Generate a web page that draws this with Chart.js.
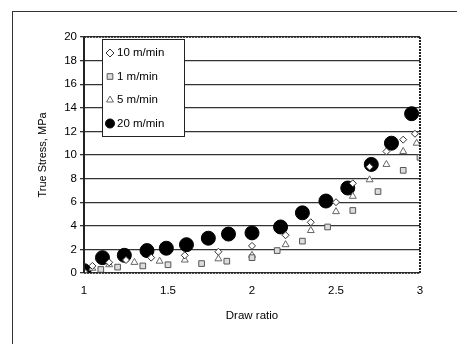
<!DOCTYPE html>
<html>
<head>
<meta charset="utf-8">
<script src="https://cdn.jsdelivr.net/npm/chart.js@4"></script>
<style>
  html, body { margin: 0; padding: 0; background: #fff; }
  #wrap { position: relative; width: 457px; height: 344px; }
  #frame { position: absolute; left: 12px; top: 11px; right: 0; bottom: 0;
           border-left: 1.5px solid #333; border-top: 1.5px solid #333; }
</style>
</head>
<body>
<div id="wrap">
  <div id="frame"></div>
  <canvas id="stressChart" width="457" height="344"></canvas>
</div>
<script>
// series labels
const seriesNames = ['10 m/min', '1 m/min', '5 m/min', '20 m/min'];

// draw ratio / true stress (MPa)
const ratio10 = [1.0, 1.05, 1.15, 1.25, 1.4, 1.6, 1.8, 2.0, 2.2, 2.35, 2.5, 2.6, 2.7, 2.8, 2.9, 2.97];
const stress10 = [0.1, 0.6, 0.9, 1.1, 1.3, 1.5, 1.8, 2.3, 3.2, 4.3, 6.0, 7.6, 9.0, 10.3, 11.3, 11.8];

const ratio1 = [1.0, 1.1, 1.2, 1.35, 1.5, 1.7, 1.85, 2.0, 2.15, 2.3, 2.45, 2.6, 2.75, 2.9, 3.0];
const stress1 = [0.0, 0.3, 0.5, 0.6, 0.7, 0.8, 1.0, 1.3, 1.9, 2.7, 3.9, 5.3, 6.9, 8.7, 9.8];

const ratio5 = [1.05, 1.15, 1.3, 1.45, 1.6, 1.8, 2.0, 2.2, 2.35, 2.5, 2.6, 2.7, 2.8, 2.9, 2.98];
const stress5 = [0.4, 0.7, 0.9, 1.0, 1.1, 1.2, 1.5, 2.4, 3.6, 5.2, 6.5, 7.9, 9.2, 10.3, 11.0];

const ratio20 = [1.0, 1.11, 1.24, 1.375, 1.49, 1.61, 1.74, 1.86, 2.0, 2.17, 2.30, 2.44, 2.57, 2.71, 2.83, 2.95];
const stress20 = [0.2, 1.3, 1.5, 1.9, 2.1, 2.4, 2.95, 3.3, 3.4, 3.9, 5.1, 6.1, 7.2, 9.2, 11.0, 13.5];

const toPts = (xs, ys) => xs.map((x, i) => ({ x: x, y: ys[i] }));

const FONT = "'Liberation Sans', Arial, sans-serif";

// frame round the plot area + the boxed legend in the upper left
const framePlugin = {
  id: 'framePlugin',
  afterDraw(chart) {
    const ctx = chart.ctx;
    const a = chart.chartArea;
    ctx.save();
    ctx.strokeStyle = '#222';
    ctx.lineWidth = 1.5;
    ctx.setLineDash([2, 1]);
    ctx.beginPath();
    ctx.moveTo(a.left, a.top); ctx.lineTo(a.right, a.top);
    ctx.moveTo(a.left, a.bottom); ctx.lineTo(a.right, a.bottom);
    ctx.stroke();
    ctx.lineWidth = 2;
    ctx.beginPath();
    ctx.moveTo(a.right, a.top); ctx.lineTo(a.right, a.bottom);
    ctx.stroke();
    ctx.setLineDash([]);
    ctx.beginPath();
    ctx.moveTo(a.left, a.top); ctx.lineTo(a.left, a.bottom);
    ctx.stroke();

    // legend box
    const bx = 102, by = 39, bw = 82, bh = 97;
    ctx.fillStyle = '#fff';
    ctx.fillRect(bx, by, bw, bh);
    ctx.lineWidth = 1;
    ctx.strokeStyle = '#222';
    ctx.strokeRect(bx + 0.5, by + 0.5, bw, bh);
    ctx.font = '11.5px ' + FONT;
    ctx.textBaseline = 'middle';
    ctx.fillStyle = '#000';
    chart.data.datasets.forEach((ds, i) => {
      const y = 53 + i * 23.5;
      ctx.save();
      ctx.fillStyle = ds.backgroundColor;
      ctx.strokeStyle = ds.borderColor;
      ctx.lineWidth = ds.borderWidth;
      Chart.helpers.drawPoint(ctx, {
        pointStyle: ds.pointStyle,
        radius: i === 3 ? 4.5 : 4,
        rotation: 0,
        borderWidth: ds.borderWidth
      }, 110, y);
      ctx.restore();
      ctx.fillText(ds.label, 117, y);
    });
    ctx.restore();
  }
};

new Chart('stressChart', {
  type: 'scatter',
  data: {
    datasets: [{
      label: seriesNames[0],
      data: toPts(ratio10, stress10),
      pointStyle: 'rectRot',
      pointRadius: 3.5,
      backgroundColor: '#fff',
      borderColor: '#333',
      borderWidth: 1
    }, {
      label: seriesNames[1],
      data: toPts(ratio1, stress1),
      pointStyle: 'rect',
      pointRadius: 4,
      backgroundColor: '#ddd',
      borderColor: '#555',
      borderWidth: 1
    }, {
      label: seriesNames[2],
      data: toPts(ratio5, stress5),
      pointStyle: 'triangle',
      pointRadius: 4,
      backgroundColor: '#fff',
      borderColor: '#666',
      borderWidth: 1
    }, {
      label: seriesNames[3],
      data: toPts(ratio20, stress20),
      pointStyle: 'circle',
      pointRadius: 7,
      backgroundColor: '#000',
      borderColor: '#000',
      borderWidth: 1
    }]
  },
  options: {
    responsive: false,
    animation: false,
    layout: {
      padding: { left: 36, right: 37, top: 37, bottom: 0 }
    },
    plugins: {
      legend: { display: false },
      tooltip: { enabled: false }
    },
    scales: {
      x: {
        min: 1,
        max: 3,
        afterFit: (scale) => { scale.height = 71; },
        grid: { display: false, drawTicks: false },
        border: { display: false },
        ticks: {
          stepSize: 0.5,
          padding: 11,
          color: '#000',
          font: { family: FONT, size: 11.5 },
          callback: (v) => String(v)
        },
        title: {
          display: true,
          text: 'Draw ratio',
          color: '#000',
          padding: { top: 4, bottom: 21 },
          font: { family: FONT, size: 11.5 }
        }
      },
      y: {
        min: 0,
        max: 20,
        afterFit: (scale) => { scale.width = 48; },
        grid: {
          color: '#333',
          lineWidth: 1.3,
          drawTicks: true,
          tickLength: 4
        },
        border: { display: false },
        ticks: {
          stepSize: 2,
          padding: 3,
          color: '#000',
          font: { family: FONT, size: 11.5 }
        },
        title: {
          display: true,
          text: 'True Stress, MPa',
          color: '#000',
          padding: { top: 0, bottom: 4 },
          font: { family: FONT, size: 11 }
        }
      }
    }
  },
  plugins: [framePlugin]
});
</script>
</body>
</html>
